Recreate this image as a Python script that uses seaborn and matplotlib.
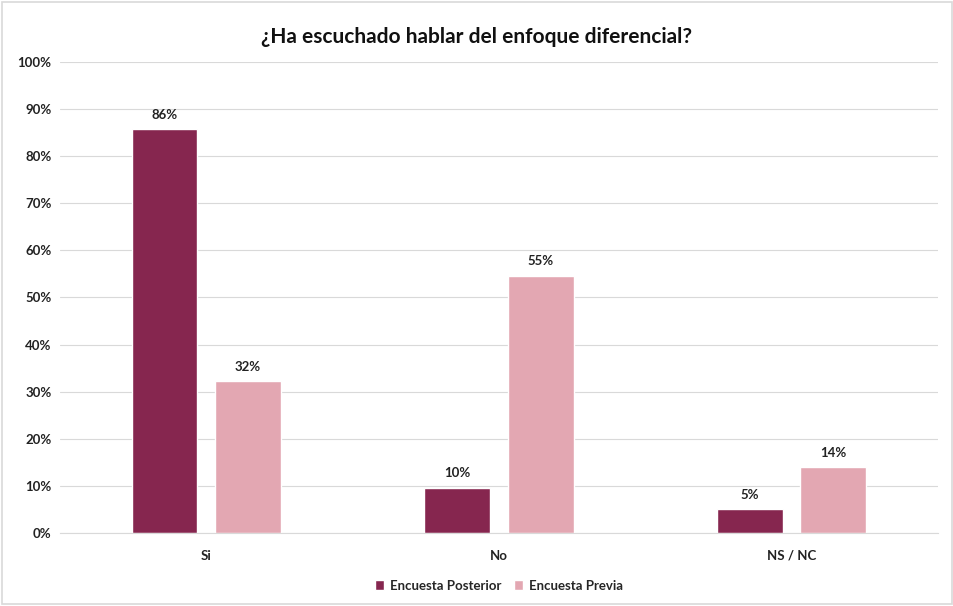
import pandas as pd
import matplotlib.pyplot as plt
import seaborn as sns
from matplotlib.patches import Rectangle

categories = ["Si", "No", "NS / NC"]
series_names = ["Encuesta Posterior", "Encuesta Previa"]
posterior = [85.8, 9.6, 5.1]
previa = [32.3, 54.6, 14.0]
posterior_labels = ["86%", "10%", "5%"]
previa_labels = ["32%", "55%", "14%"]
yticks = [0, 10, 20, 30, 40, 50, 60, 70, 80, 90, 100]

colors = ["#86264F", "#E3A7B2"]

df = pd.DataFrame({
    "categoria": categories * 2,
    "encuesta": [series_names[0]] * 3 + [series_names[1]] * 3,
    "valor": posterior + previa,
    "etiqueta": posterior_labels + previa_labels,
})

sns.set_theme(style="white")
plt.rcParams["font.family"] = ["Lato", "DejaVu Sans"]

fig = plt.figure(figsize=(9.54, 6.06), dpi=100)
ax = fig.add_axes([0.0629, 0.1205, 0.9201, 0.7772])

sns.barplot(data=df, x="categoria", y="valor", hue="encuesta",
            palette=colors, width=0.572, gap=0.213, saturation=1,
            order=categories, hue_order=series_names, ax=ax, legend=True)

# data labels
for cont, labels in zip(ax.containers, [posterior_labels, previa_labels]):
    ax.bar_label(cont, labels=labels, padding=6, fontsize=9.5,
                 fontweight="bold", color="#222222")

ax.set_ylim(0, 100)
ax.set_xlim(-0.5, 2.5)
ax.set_yticks(yticks)
ax.set_yticklabels([f"{t}%" for t in yticks], fontsize=9.5,
                   fontweight="bold", color="#222222")
ax.tick_params(axis="x", labelsize=9.5, colors="#222222", pad=12, length=0)
ax.tick_params(axis="y", length=0, pad=6)
for lbl in ax.get_xticklabels():
    lbl.set_fontweight("bold")
ax.set_xlabel("")
ax.set_ylabel("")
ax.yaxis.grid(True, color="#D9D9D9", linewidth=0.8)
ax.set_axisbelow(True)
for side in ["top", "right", "left"]:
    ax.spines[side].set_visible(False)
ax.spines["bottom"].set_color("#D9D9D9")
ax.spines["bottom"].set_linewidth(0.8)

fig.suptitle("¿Ha escuchado hablar del enfoque diferencial?", y=0.955,
             fontsize=15, fontweight="bold", color="#111111")

handles, labs = ax.get_legend_handles_labels()
ax.legend(handles, labs, loc="center", bbox_to_anchor=(0.5, -0.112),
          ncol=2, frameon=False, handlelength=0.7, handleheight=0.7,
          handletextpad=0.4, columnspacing=1.0,
          prop={"size": 9.5, "weight": "bold"})

fig.patches.append(Rectangle((0.002, 0.003), 0.996, 0.994,
                             transform=fig.transFigure, fill=False,
                             edgecolor="#D9D9D9", linewidth=1.2))

fig.savefig("out.png", dpi=100)
